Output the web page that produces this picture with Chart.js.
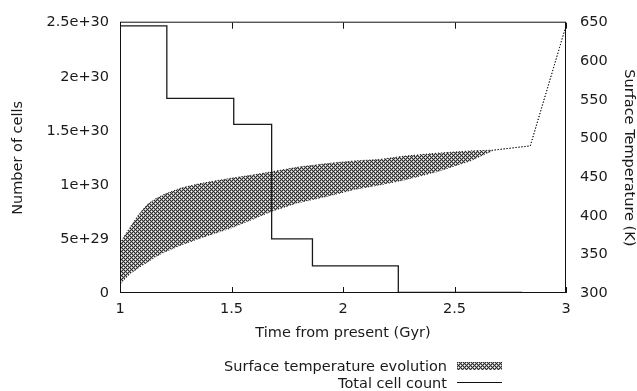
<!DOCTYPE html>
<html>
<head>
<meta charset="utf-8">
<script src="https://cdn.jsdelivr.net/npm/chart.js@4.4.0/dist/chart.umd.min.js"></script>
<style>
  html, body { margin: 0; padding: 0; background: #fff; }
  #wrap { position: relative; width: 637px; height: 391px; }
  #legend { position: absolute; right: 135px; top: 358px; font: 14.5px "DejaVu Sans", sans-serif; color: #1a1a1a; line-height: 16.6px; }
  .row { display: flex; justify-content: flex-end; align-items: center; }
  .sw { display: inline-block; width: 45px; height: 8px; margin-left: 10px; }
  .sw.line { height: 0; border-top: 1px solid #111; }
</style>
</head>
<body>
<div id="wrap">
  <canvas id="chart" width="637" height="391"></canvas>
  <div id="legend"></div>
</div>
<script>
// axis ticks
const timeTicks = [1, 1.5, 2, 2.5, 3];
const timeTickLabels = ['1', '1.5', '2', '2.5', '3'];
const cellTicks = [0, 5e29, 1e30, 1.5e30, 2e30, 2.5e30];
const cellTickLabels = ['0', '5e+29', '1e+30', '1.5e+30', '2e+30', '2.5e+30'];
const tempTicks = [300, 350, 400, 450, 500, 550, 600, 650];

// total cell count (step function, value holds until next time)
const cellTime  = [1, 1.21, 1.51, 1.68, 1.863, 2.248, 2.8, 3];
const cellCount = [2.47e30, 1.8e30, 1.56e30, 0.5e30, 0.25e30, 0.006e30, 0, 0];

// surface temperature band (K)
const tempTime  = [1, 1.025, 1.05, 1.085, 1.124, 1.16, 1.2, 1.274, 1.349, 1.424, 1.506, 1.6, 1.681, 1.8, 1.941, 2.05, 2.165, 2.27, 2.42, 2.57, 2.675, 2.84, 3];
const tempUpper = [364, 376, 387, 402, 415, 422, 428, 436, 441, 445, 449, 453, 457, 463, 468, 471, 473, 477, 481, 484, 485, 490.5, 646];
const tempLower = [311, 319, 326, 333, 340, 347, 353, 362, 370, 377, 385, 396, 406, 417, 426, 434, 440, 446, 457, 471, 485, 490.5, 646];

const labels = ['Surface temperature evolution', 'Total cell count'];

const font = { family: '"DejaVu Sans", sans-serif', size: 14.5 };
const textColor = '#1a1a1a';

// dot lattice fill pattern
const tile = document.createElement('canvas');
tile.width = 4; tile.height = 4;
const t = tile.getContext('2d');
t.fillStyle = '#2c2c2c';
t.fillRect(0, 0, 4, 4);
t.fillStyle = '#a0a0a0';
[[0, 1], [2, 1], [1, 0], [1, 2], [2, 3], [3, 2], [0, 3], [3, 0]].forEach(p => t.fillRect(p[0], p[1], 1, 1));
t.fillStyle = '#ffffff';
t.fillRect(1, 1, 1, 1);
t.fillRect(3, 3, 1, 1);
const ctx = document.getElementById('chart').getContext('2d');
const pattern = ctx.createPattern(tile, 'repeat');

const pts = (xs, ys) => xs.map((x, i) => ({ x: x, y: ys[i] }));

// box border and inward x ticks
const frame = {
  id: 'frame',
  afterDatasetsDraw(chart) {
    const c = chart.ctx, a = chart.chartArea, sx = chart.scales.x;
    c.save();
    c.strokeStyle = '#111';
    c.lineWidth = 1;
    c.strokeRect(a.left + 0.5, a.top - 0.5, a.right - a.left - 1, a.bottom - a.top);
    c.beginPath();
    timeTicks.forEach(v => {
      const px = Math.round(sx.getPixelForValue(v)) + 0.5;
      c.moveTo(px, a.bottom); c.lineTo(px, a.bottom - 6);
      c.moveTo(px, a.top); c.lineTo(px, a.top + 6);
    });
    c.stroke();
    c.restore();
  }
};

const chart = new Chart(ctx, {
  type: 'line',
  data: {
    datasets: [
      {
        label: labels[1],
        data: pts(cellTime, cellCount),
        yAxisID: 'y',
        stepped: 'before',
        borderColor: '#1a1a1a',
        borderWidth: 1.3,
        pointRadius: 0,
        fill: false,
        order: 0
      },
      {
        label: labels[0],
        data: pts(tempTime, tempUpper),
        yAxisID: 'y1',
        borderColor: '#111',
        borderWidth: 1,
        borderDash: [1, 2],
        tension: 0,
        pointRadius: 0,
        backgroundColor: pattern,
        fill: '+1',
        order: 1
      },
      {
        label: 'lower',
        data: pts(tempTime, tempLower),
        yAxisID: 'y1',
        borderColor: '#111',
        borderWidth: 1,
        borderDash: [1, 2],
        tension: 0,
        pointRadius: 0,
        fill: false,
        order: 2
      }
    ]
  },
  options: {
    responsive: false,
    animation: false,
    devicePixelRatio: 1,
    layout: { padding: { top: 20, left: 0, right: 0, bottom: 0 } },
    plugins: { legend: { display: false }, tooltip: { enabled: false } },
    scales: {
      x: {
        type: 'linear', min: 1, max: 3,
        grid: { display: false, drawTicks: false },
        border: { display: false },
        afterBuildTicks: s => { s.ticks = timeTicks.map(v => ({ value: v })); },
        afterFit: s => { s.height = 98; },
        ticks: { padding: 8, font: font, color: textColor, maxRotation: 0, autoSkip: false,
                 callback: (v, i) => timeTickLabels[i] },
        title: { display: true, text: 'Time from present (Gyr)', font: font, color: textColor,
                 padding: { top: 4, bottom: 49 } }
      },
      y: {
        position: 'left', min: 0, max: 2.5e30,
        grid: { display: false, drawTicks: false },
        border: { display: false },
        afterBuildTicks: s => { s.ticks = cellTicks.map(v => ({ value: v })); },
        afterFit: s => { s.width = 120; },
        ticks: { padding: 11, font: font, color: textColor, autoSkip: false,
                 callback: (v, i) => cellTickLabels[i] },
        title: { display: true, text: 'Number of cells', font: font, color: textColor,
                 padding: { top: 10, bottom: 0 } }
      },
      y1: {
        position: 'right', min: 300, max: 650,
        grid: { display: false, drawTicks: false },
        border: { display: false },
        afterBuildTicks: s => { s.ticks = tempTicks.map(v => ({ value: v })); },
        afterFit: s => { s.width = 71; },
        ticks: { padding: 14, font: font, color: textColor, autoSkip: false },
        title: { display: true, text: 'Surface Temperature (K)', font: font, color: textColor,
                 padding: { top: 0, bottom: 0 } }
      }
    }
  },
  plugins: [frame]
});

// legend below the plot
const legend = document.getElementById('legend');
labels.forEach((name, i) => {
  const row = document.createElement('div');
  row.className = 'row';
  const txt = document.createElement('span');
  txt.textContent = name;
  const sw = document.createElement('span');
  sw.className = i === 0 ? 'sw' : 'sw line';
  if (i === 0) sw.style.background = 'url(' + tile.toDataURL() + ')';
  row.appendChild(txt);
  row.appendChild(sw);
  legend.appendChild(row);
});
</script>
</body>
</html>
